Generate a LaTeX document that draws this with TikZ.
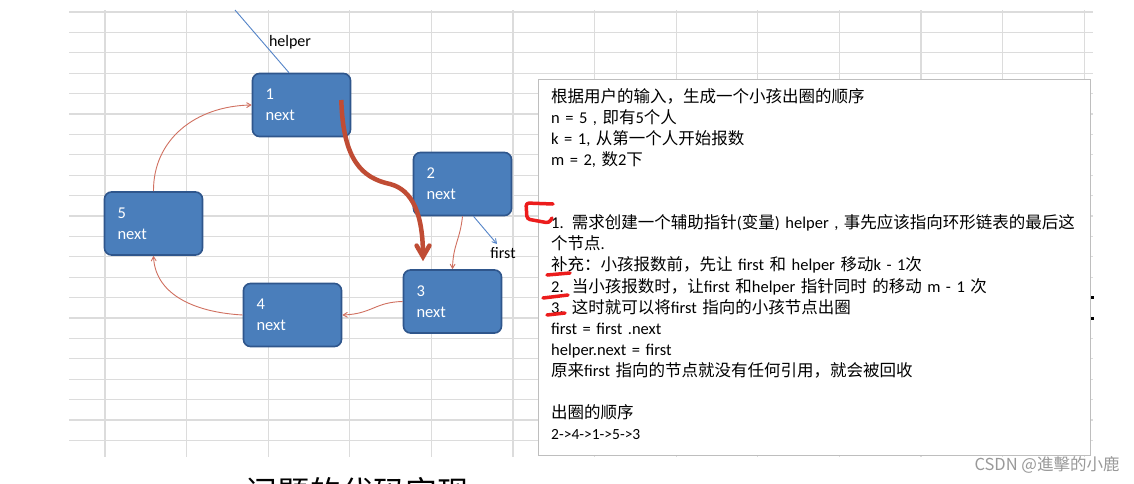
\documentclass[tikz,border=0pt]{standalone}
\usepackage{fontspec}
\setmainfont{Carlito}
\newfontfamily\cjk{Noto Sans CJK SC}
\usepackage{tikz}
\usetikzlibrary{arrows}

\newcommand{\zh}[1]{{\cjk #1}}

\definecolor{nodeblue}{RGB}{74,126,187}
\definecolor{nodeborder}{RGB}{47,86,140}
\definecolor{linkred}{RGB}{208,112,96}
\definecolor{movered}{RGB}{192,76,52}
\definecolor{penred}{RGB}{236,28,28}
\definecolor{pointerblue}{RGB}{84,132,200}
\definecolor{gridgray}{RGB}{220,220,220}
\definecolor{boxgray}{RGB}{190,190,190}

\tikzstyle{listnode} = [rectangle, rounded corners=7pt, minimum width=98pt, minimum height=63pt, text width=72pt, inner xsep=13pt, align=left, draw=nodeborder, line width=1.6pt, fill=nodeblue, text=white, font=\fontsize{16.5}{21}\selectfont]
\tikzstyle{link} = [draw=linkred, line width=0.9pt, ->, >=angle 60]
\tikzstyle{bigmove} = [draw=movered, line width=4.5pt, ->, >=angle 60]
\tikzstyle{pointer} = [draw=pointerblue, line width=0.9pt]
\tikzstyle{tag} = [inner sep=1pt, font=\fontsize{16}{18}\selectfont]
\tikzstyle{redpen} = [draw=penred, line width=3.5pt, line cap=round, line join=round]
\tikzstyle{gridline} = [draw=gridgray, line width=1.2pt]
\tikzstyle{notebox} = [rectangle, draw=boxgray, line width=1pt, fill=white, anchor=north west, minimum width=552pt, minimum height=376pt]
\tikzstyle{notetext} = [anchor=north west, inner sep=0pt, text width=526pt, align=left, font=\fontsize{16.5}{21.1}\selectfont]

\begin{document}
\begin{tikzpicture}[x=1pt, y=-1pt]

        \useasboundingbox [fill=white] (0,0) rectangle (1134,483);

        % sheet grid
        \foreach \r in {0,...,21}
            \draw [gridline] (69,12+20.4*\r) -- (1093,12+20.4*\r);
        \foreach \c in {0,...,12}
            \draw [gridline] (105+81.6*\c,10) -- (105+81.6*\c,457);

        \node (notesbox) [notebox] at (538,79) {};
        \node (notes) [notetext] at ([xshift=13pt, yshift=-9pt]notesbox.north west) {%
            \zh{根据用户的输入，生成一个小孩出圈的顺序}\\
            n = 5 , \zh{即有}5\zh{个人}\\
            k = 1, \zh{从第一个人开始报数}\\
            m = 2, \zh{数}2\zh{下}\\[42.2pt]
            1. \zh{需求创建一个辅助指针}(\zh{变量}) helper , \zh{事先应该指向环形链表的最后这}\\
            \zh{个节点}.\\
            \zh{补充：小孩报数前，先让} first \zh{和} helper \zh{移动}k - 1\zh{次}\\
            2. \zh{当小孩报数时，让}first \zh{和}helper \zh{指针同时} \zh{的移动} m - 1 \zh{次}\\
            3. \zh{这时就可以将}first \zh{指向的小孩节点出圈}\\
            first = first .next\\
            helper.next = first\\
            \zh{原来}first \zh{指向的节点就没有任何引用，就会被回收}\\[21.1pt]
            \zh{出圈的顺序}\\
            {\fontsize{15.5}{21.1}\selectfont 2->4->1->5->3}};

        \fill (1090.5,295.5) rectangle (1093.5,298.5);
        \fill (1090.5,316.5) rectangle (1093.5,319.5);

        \node (n1) [listnode] at (301.5,105) {1\\next};
        \node (n2) [listnode] at (462.5,184) {2\\next};
        \node (n3) [listnode] at (452.5,301.5) {3\\next};
        \node (n4) [listnode] at (292.5,315) {4\\next};
        \node (n5) [listnode] at (153.5,223.5) {5\\next};

        \node (helperlbl) [tag] at (290,42) {helper};
        \node (firstlbl) [tag] at (503,253) {first};
        \coordinate (helpertail) at (235,10);
        \coordinate (firsttip) at (497,244);

        \draw [pointer] (helpertail) -- ([xshift=-12.5pt]n1.north);
        \draw [pointer, ->, >=angle 60] ([xshift=11pt]n2.south) -- (firsttip);

        \draw [link] (n2.south) .. controls (460,240) and (453,245) .. (n3.north);
        \draw [link] (n3.west) .. controls (375,302) and (372,314) .. (n4.east);
        \draw [link] (n4.west) .. controls (190,312) and (155,292) .. (n5.south);
        \draw [link] (n5.north) .. controls (153,140) and (195,106) .. (n1.west);

        \draw [bigmove] ([xshift=-10pt, yshift=5pt]n1.east) .. controls (343,160) and (362,178) .. (390,184)
              .. controls (413,190) and (423,215) .. ([xshift=-29.5pt, yshift=8pt]n3.north);

        % pen marks
        \draw [redpen, rounded corners=3pt] (553,204) -- (526,203) -- (527,219) -- (549,223) -- (552,218);
        \draw [redpen] (547,275) -- (570,273);
        \draw [redpen] (543,298) -- (568,295);
        \draw [redpen] (547,315) -- (565,313);

        \node (watermark) [text=black!40, font=\cjk\fontsize{16.5}{18}\selectfont] at (1047,465) {CSDN @進擊的小鹿};
        \node (nextheading) [font=\cjk\fontsize{32}{36}\selectfont] at (357.5,492) {问题的代码实现};

\end{tikzpicture}
\end{document}
